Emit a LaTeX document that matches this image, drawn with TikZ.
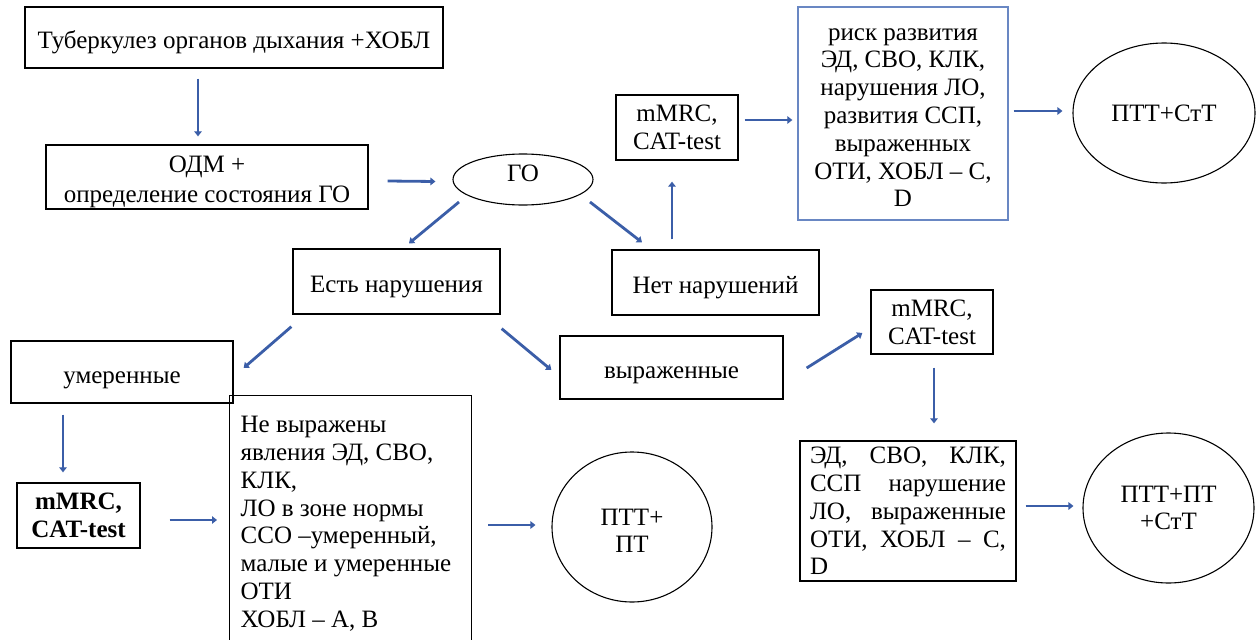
\documentclass[tikz,border=0pt]{standalone}
\usepackage{fontspec}
\setmainfont{Liberation Serif}
\usetikzlibrary{shapes.geometric,arrows.meta}
\definecolor{arrowblue}{RGB}{59,94,168}
\definecolor{riskblue}{RGB}{105,135,195}
\newcommand\bodyfs{\fontsize{25}{27.8}\selectfont}
\newcommand\justline[1]{\leavevmode\hbox to 196pt{#1}}
\begin{document}
\begin{tikzpicture}[x=1pt,y=-1pt,
 box/.style={draw=black,line width=1.3pt,rectangle,inner sep=0pt,align=center,font=\bodyfs},
 oneline/.style={text height=22pt,text depth=0pt},
 oval/.style={draw=black,line width=1.1pt,ellipse,inner sep=0pt,align=center,font=\bodyfs},
 conn/.style={draw=arrowblue,line width=2.8pt,-{Triangle[length=5pt,width=7.5pt]}}]
\clip (0,0) rectangle (1259,640);
\fill[white] (0,0) rectangle (1259,640);
% nodes
\node[box,oneline,minimum width=418,minimum height=61] (t1) at (234,37.5) {Туберкулез органов дыхания +ХОБЛ};
\node[box,minimum width=322,minimum height=64] (odm) at (207,177) {\rule{0pt}{26pt}ОДМ +\\[2pt]определение состояния ГО};
\node[oval,text depth=12pt,minimum width=140,minimum height=51] (go) at (523,179.5) {ГО};
\node[box,oneline,minimum width=207,minimum height=65] (est) at (396.5,281.5) {Есть нарушения};
\node[box,oneline,minimum width=207,minimum height=65] (net) at (715.5,282.5) {Нет нарушений};
\node[box,minimum width=122,minimum height=65] (mm1) at (677,127.5) {mMRC,\\CAT-test};
\node[box,draw=riskblue,minimum width=210,minimum height=213] (risk) at (903,113.5) {\rule{0pt}{20pt}риск развития\\ЭД, СВО, КЛК,\\нарушения ЛО,\\развития ССП,\\выраженных\\ОТИ, ХОБЛ – С,\\D};
\node[oval,minimum width=182,minimum height=140] (c1) at (1164,113) {ПТТ+СтТ};
\node[box,oneline,minimum width=222,minimum height=62] (umer) at (122,372) {умеренные};
\node[box,oneline,minimum width=223,minimum height=63] (vyr) at (671.5,367.5) {выраженные};
\node[box,minimum width=122,minimum height=64] (mm2) at (932,322) {mMRC,\\CAT-test};
\node[box,minimum width=216,minimum height=140,text width=196,inner xsep=10,align=left] (ed) at (908,511)
 {\justline{ЭД,\hfill СВО,\hfill КЛК,}\\
  \justline{ССП\hfill нарушение}\\
  \justline{ЛО,\hfill выраженные}\\
  \justline{ОТИ,\hfill ХОБЛ\hfill –\hfill С,}\\
  D};
\node[oval,minimum width=171,minimum height=150] (c3) at (1168.5,508) {ПТТ+ПТ\\+СтТ};
\node[box,minimum width=123,minimum height=65,font=\bodyfs\bfseries] (mm3) at (78.5,515.5) {mMRC,\\CAT-test};
\node[box,anchor=north west,text width=220,inner xsep=11,align=left] (ne) at (229,395)
 {\spaceskip=0pt\xspaceskip=0pt\rule{0pt}{37pt}Не выражены\\
  явления ЭД, СВО,\\
  КЛК,\\
  ЛО в зоне нормы\\
  ССО –умеренный,\\
  малые и умеренные\\
  ОТИ\\
  ХОБЛ – А, В\rule[-36pt]{0pt}{36pt}};
\node[oval,minimum width=160,minimum height=150] (c2) at (632,527) {\rule{0pt}{24pt}ПТТ+\\ПТ};
% connectors
\draw[conn] ([shift={(-36,10)}]t1.south) -- ([shift={(-9,-8)}]odm.north);
\draw[conn] ([shift={(19,4)}]odm.east) -- ([shift={(-17,2)}]go.west);
\draw[conn] ([shift={(-64,22.5)}]go.center) -- ([shift={(12.5,-5)}]est.north);
\draw[conn] ([shift={(67,22.5)}]go.center) -- ([shift={(-73.5,-7)}]net.north);
\draw[conn] ([shift={(-43.5,-10)}]net.north) -- ([shift={(-5,21)}]mm1.south);
\draw[conn] ([shift={(6,-7.5)}]mm1.east) -- ([shift={(-5,6.5)}]risk.west);
\draw[conn] ([shift={(5,-2.5)}]risk.east) -- ([shift={(-10,-2)}]c1.west);
\draw[conn] ([shift={(-1,12)}]est.south west) -- ([shift={(10,-4)}]umer.east);
\draw[conn] ([shift={(1,14)}]est.south east) -- ([shift={(-8,2.5)}]vyr.west);
\draw[conn] ([shift={(23,0.5)}]vyr.east) -- ([shift={(-8,11)}]mm2.west);
\draw[conn] ([shift={(2,13)}]mm2.south) -- ([shift={(26,-17)}]ed.north);
\draw[conn] ([shift={(9,-5)}]ed.east) -- ([shift={(-9,-2)}]c3.west);
\draw[conn] ([shift={(-59,11)}]umer.south) -- ([shift={(-15.5,-10)}]mm3.north);
\draw[conn] ([shift={(29,4.5)}]mm3.east) -- ([shift={(-12,125)}]ne.north west);
\draw[conn] ([shift={(16,130)}]ne.north east) -- ([shift={(-16,-2)}]c2.west);
\end{tikzpicture}
\end{document}
